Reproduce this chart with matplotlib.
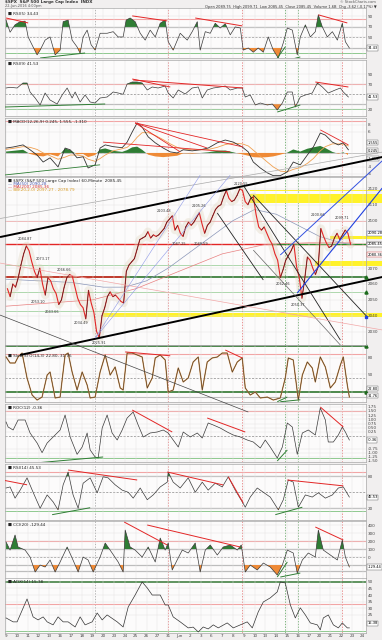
import matplotlib
matplotlib.use("Agg")
import matplotlib.pyplot as plt
import matplotlib.transforms as mtransforms
import numpy as np

# x axis = trading sessions, 0 = open of 9 May 2016 (60 minute chart)
day_labels = ["9", "10", "11", "12", "13", "16", "17", "18", "19", "20",
              "23", "24", "25", "26", "27", "31", "Jun", "2", "3", "6",
              "7", "8", "9", "10", "13", "14", "15", "16", "17", "20",
              "21", "22", "23", "24"]

# $SPX, four readings per session
spx = np.array([
    2057, 2052, 2060, 2058,  2064, 2072, 2079, 2084,  2081, 2074, 2068, 2064,
    2070, 2060, 2053, 2064,  2062, 2057, 2054, 2047,  2050, 2058, 2064, 2066,
    2065, 2058, 2051, 2047,  2045, 2038, 2056, 2048,  2042, 2030, 2026, 2040,
    2045, 2052, 2055, 2052,  2053, 2051, 2049, 2048,  2068, 2072, 2074, 2076,
    2082, 2088, 2089, 2090,  2093, 2089, 2091, 2090,  2091, 2093, 2095, 2099,
    2101, 2103, 2094, 2097,  2092, 2090, 2096, 2099,  2097, 2099, 2102, 2105,
    2098, 2092, 2097, 2099,  2103, 2107, 2109, 2110,  2115, 2119, 2114, 2112,
    2113, 2116, 2120, 2119,  2112, 2110, 2114, 2115,  2104, 2096, 2094, 2096,
    2092, 2088, 2085, 2079,  2075, 2064, 2069, 2075,  2078, 2081, 2085, 2071,
    2064, 2051, 2063, 2077,  2075, 2070, 2066, 2071,  2095, 2090, 2086, 2083,
    2084, 2089, 2092, 2088,  2091, 2094, 2092, 2085])
spx_t = np.arange(len(spx)) / 4 + 0.125

ma50_t = [0, 3, 6, 9, 11, 13, 15, 17, 19, 21, 23, 25, 27, 29, 31, 32]
ma50 = [2063, 2062, 2061, 2058, 2058, 2062, 2070, 2080, 2090, 2100, 2107, 2104,
        2097, 2090, 2086, 2085]
ma200_t = [0, 4, 8, 12, 16, 20, 24, 28, 32]
ma200 = [2046, 2048, 2050, 2057, 2068, 2079, 2085, 2086, 2086]

rsi5_t = np.array([0.0, 0.37, 0.83, 1.30, 1.76, 2.04, 2.50, 2.87, 3.15, 3.61, 4.07, 4.54,
                   5.00, 5.28, 5.74, 6.11, 6.57, 6.85, 7.13, 7.50, 7.87, 8.24, 8.70, 9.35,
                   9.91, 10.37, 10.83, 11.11, 11.48, 11.94, 12.41, 12.87, 13.33, 13.80,
                   14.26, 14.72, 15.00, 15.46, 16.11, 16.76, 17.22, 17.69, 17.96, 18.43,
                   18.89, 19.35, 19.81, 20.28, 20.74, 21.20, 21.67, 21.94, 22.41, 22.87,
                   23.33, 23.80, 24.26, 24.72, 25.19, 25.65, 26.02, 26.48, 26.94, 27.22,
                   27.69, 28.15, 28.61, 28.89, 29.26, 29.72, 30.19, 30.65, 31.11, 31.39,
                   31.76])
rsi5 = np.array([83, 60, 74, 80, 81, 51, 32, 17, 26, 45, 51, 17,
                 26, 80, 83, 45, 32, 20, 51, 64, 36, 26, 58, 58,
                 61, 51, 51, 83, 87, 80, 58, 45, 64, 51,
                 77, 83, 42, 26, 58, 45, 61, 80, 26, 61,
                 58, 77, 68, 76, 55, 70, 68, 26, 30, 22,
                 30, 22, 51, 26, 11, 40, 68, 64, 17, 51,
                 74, 51, 61, 93, 70, 51, 61, 45, 77, 42,
                 30])

rsi9_t = np.array([0.0, 0.37, 1.02, 1.57, 1.94, 2.22, 2.69, 3.15, 3.61, 4.07, 4.72, 5.19,
                   5.65, 6.11, 6.39, 6.85, 7.31, 7.78, 8.24, 8.70, 9.35, 9.91, 10.37, 10.83,
                   11.20, 11.67, 12.13, 12.59, 13.06, 13.52, 14.07, 14.72, 15.00, 15.46,
                   15.93, 16.57, 17.22, 17.78, 18.15, 18.61, 19.17, 19.81, 20.28, 20.74,
                   21.39, 21.85, 22.13, 22.59, 23.06, 23.52, 24.17, 24.63, 25.09, 25.56,
                   26.02, 26.48, 26.76, 27.22, 27.69, 28.33, 28.80, 29.26, 29.81, 30.46,
                   30.93, 31.20, 31.67])
rsi9 = np.array([62.6, 64, 62.6, 72.6, 72.6, 54.6, 42.6, 28.6, 52.6, 38.6, 30.6, 48.6,
                 62.6, 42.6, 54.6, 34.6, 48.6, 34.6, 32.6, 42.6, 44.6, 54.6, 52.6, 50,
                 70.6, 74.6, 74.6, 72.6, 58.6, 64.6, 62.6, 66.6, 52.6, 42.6,
                 58.6, 50.6, 62.6, 64.6, 42.6, 58.6, 62.6, 64.6, 66.6, 58.6,
                 62.6, 62.6, 44.6, 48.6, 28.6, 32.6, 28.6, 30.6, 18.6, 32.6,
                 54.6, 54.6, 24.6, 44.6, 48.6, 52.6, 72.6, 64.6, 52.6, 58.6,
                 62.6, 54.6, 44.6])

macd_t = np.array([0.0, 0.65, 1.57, 2.22, 2.87, 3.43, 4.07, 4.81, 5.46, 5.93, 6.57, 7.13,
                   7.59, 8.24, 8.70, 9.17, 9.91, 10.74, 11.20, 11.67, 12.13, 12.59, 13.15,
                   13.80, 14.54, 15.19, 15.83, 16.39, 17.22, 17.96, 18.70, 19.54, 20.28,
                   21.02, 21.85, 22.41, 22.87, 23.52, 24.17, 24.72, 25.37, 26.02, 26.57,
                   27.22, 27.87, 28.43, 29.07, 29.54, 30.19, 30.74, 31.20, 31.67])
macd = np.array([1.4, 1.7, 2.3, 0.9, -0.6, -2.6, -1.4, -4.0, 1.4, 0.9, -1.4, -1.1,
                 -4.3, -3.4, 1.4, 2.3, 1.8, 1.5, 3.1, 6.0, 8.6, 7.4, 4.6,
                 2.9, 1.4, 0.3, 0.0, 0.9, 0.6, 0.9, 1.4, 2.9, 3.7,
                 3.1, 1.7, 0.3, -2.6, -4.3, -5.7, -6.5, -6.5, -5.4, -2.6,
                 -3.4, -0.6, 1.7, 5.7, 5.1, 3.1, 2.3, 2.9, 0.9])
macd_signal = np.array([1.0, 1.3, 1.8, 1.6, 1.0, 0.0, -0.8, -1.8, -1.2, -0.6, -0.6, -0.9,
                        -1.8, -2.4, -1.6, -0.6, 0.6, 1.2, 1.6, 2.8, 4.5, 5.8, 5.8,
                        5.0, 3.8, 2.6, 1.6, 1.1, 0.9, 0.9, 1.0, 1.6, 2.4,
                        2.8, 2.6, 2.0, 0.8, -0.9, -2.6, -4.0, -5.2, -5.4, -4.7,
                        -4.2, -3.0, -1.6, 0.6, 1.8, 2.6, 2.6, 2.5, 2.0])
macd_hist = np.array([0.4, 0.6, 0.9, -0.3, -0.8, -1.0, -0.4, -1.0, 1.3, 0.8, -0.4, -0.3,
                      -1.2, -0.6, 1.0, 1.3, 0.6, 0.3, 0.8, 1.6, 1.8, 0.9, -0.5,
                      -1.0, -1.2, -1.0, -0.8, -0.1, -0.2, 0.0, 0.2, 0.6, 0.7,
                      0.2, -0.4, -0.8, -1.2, -1.3, -1.2, -1.0, -0.5, 0.1, 1.0,
                      0.4, 1.2, 1.6, 2.0, 1.4, 0.3, -0.2, 0.2, -0.6])

sto_t = np.array([0.0, 0.37, 0.83, 1.11, 1.48, 1.94, 2.41, 2.87, 3.33, 3.80, 4.07, 4.54,
                  5.00, 5.46, 5.74, 6.11, 6.57, 7.04, 7.50, 7.78, 8.24, 8.70, 9.17, 9.63,
                  10.09, 10.56, 10.83, 11.20, 11.67, 12.13, 12.59, 13.06, 13.52, 13.80,
                  14.26, 14.72, 15.00, 15.46, 15.93, 16.39, 16.85, 17.31, 17.78, 18.15,
                  18.61, 19.07, 19.54, 20.00, 20.46, 20.93, 21.39, 21.85, 22.13, 22.59,
                  23.06, 23.52, 24.17, 24.72, 25.37, 25.83, 26.11, 26.57, 27.04, 27.41,
                  27.87, 28.33, 28.61, 29.07, 29.54, 30.00, 30.46, 30.93, 31.20, 31.57,
                  31.76])
sto = np.array([81.8, 70.9, 70.9, 81.8, 89, 43.6, 12.7, 3.6, 9, 49, 54.5, 7.3,
                9, 85.5, 89, 54.5, 21.8, 54.5, 30.9, 7.3, 9, 54.5, 85.5, 49,
                63.6, 25.5, 21.8, 89, 89, 85.5, 81.8, 25.5, 43.6, 80,
                85.5, 76.4, 18.2, 21.8, 61.8, 36.4, 43.6, 72.7, 81.8, 21.8,
                72.7, 80, 81.8, 89, 89, 54.5, 72.7, 80, 25.5, 12.7,
                18.2, 7.3, 9, 3.6, 7.3, 43.6, 80, 76.4, 3.6, 49,
                72.7, 61.8, 36.4, 81.8, 63.6, 25.5, 36.4, 67.3, 81.8, 30.9,
                9])

roc_t = np.array([0.0, 0.19, 0.65, 1.11, 1.76, 2.22, 2.87, 3.33, 3.80, 4.35, 5.00, 5.46,
                  5.93, 6.57, 7.04, 7.50, 7.78, 8.24, 8.52, 8.89, 9.35, 9.81, 10.28, 10.74,
                  11.20, 11.76, 12.22, 12.69, 13.33, 13.98, 14.54, 15.00, 15.46, 15.93,
                  16.39, 17.04, 17.69, 18.15, 18.70, 19.17, 19.81, 20.46, 21.02, 21.67,
                  22.31, 22.87, 23.52, 23.98, 24.44, 25.09, 25.56, 26.02, 26.48, 26.94,
                  27.41, 27.96, 28.61, 29.07, 29.54, 29.81, 30.28, 30.74, 31.11, 31.39,
                  31.76])
roc = np.array([0.84, 0.54, 0.36, 0.96, 0.96, 0.18, -0.42, -1.0, -0.42, -0.06, 0.36, 1.26,
                -0.06, -1.1, -0.66, 0.18, -0.84, -1.26, -1.32, 0.48, 1.26, 0.18, -0.24, 0.36,
                1.08, 1.44, 0.66, -0.06, 0.18, 0.24, 0.36, 0.18, -0.24, -0.66,
                0.24, -0.06, 0.18, -0.12, 0.78, 0.66, 0.48, 0.24, 0.06, -0.06,
                -0.24, -0.36, -0.72, -0.24, -0.66, -1.32, -0.66, 0.78, 0.54, -1.1,
                0.18, 0.36, 0.06, 1.68, 0.96, -0.36, -0.36, 0.06, 0.54, 0.24,
                -0.24])

rsi14_t = np.array([0.0, 0.37, 0.83, 1.30, 1.94, 2.50, 3.15, 3.80, 4.35, 4.81, 5.28, 5.74,
                    6.20, 6.67, 7.13, 7.78, 8.43, 8.98, 9.44, 10.09, 10.74, 11.30, 11.76,
                    12.41, 13.06, 13.61, 14.26, 14.91, 15.00, 15.46, 16.11, 16.85, 17.50,
                    18.15, 18.70, 19.35, 20.00, 20.56, 21.20, 21.85, 22.13, 22.59, 23.24,
                    23.80, 24.44, 24.91, 25.19, 25.65, 26.11, 26.57, 27.04, 27.69, 28.33,
                    28.89, 29.54, 30.19, 30.74, 31.20, 31.76])
rsi14 = np.array([58, 60, 39, 54, 77, 50, 20, 45, 32, 17, 64, 88,
                  45, 20, 67, 77, 49, 79, 77, 64, 54, 50, 39,
                  58, 36, 45, 60, 69, 88, 69, 58, 77, 50,
                  69, 54, 67, 60, 79, 54, 32, 22, 41, 58,
                  50, 41, 26, 17, 36, 73, 69, 22, 45, 41,
                  49, 39, 45, 58, 60, 41])

cci_t = np.array([0.0, 0.37, 0.83, 1.11, 1.76, 2.22, 2.69, 3.15, 3.61, 4.07, 4.54, 5.00,
                  5.65, 6.11, 6.67, 7.13, 7.59, 8.06, 8.70, 9.17, 9.81, 10.37, 10.83, 11.02,
                  11.48, 11.94, 12.59, 13.15, 13.80, 14.26, 14.72, 15.00, 15.37, 15.83,
                  16.30, 16.85, 17.50, 17.96, 18.43, 18.89, 19.54, 20.09, 20.74, 21.39,
                  21.76, 22.13, 22.59, 23.24, 23.80, 24.44, 25.09, 25.56, 26.02, 26.57,
                  26.94, 27.41, 27.96, 28.61, 28.89, 29.35, 30.00, 30.65, 31.11, 31.39,
                  31.76])
cci = np.array([187, 87, 275, 125, 87, 0, -187, -100, -125, -37, -187, -62,
                125, -12, -187, 0, -37, -187, 0, 175, 50, -62, -187, 337,
                125, 87, 0, 125, -62, 237, 87, 175, -162, -37,
                87, 50, 175, -187, 87, 150, 25, 125, 150, 87,
                150, -187, -100, -162, -75, -125, -225, -100, 87, 50,
                -200, -37, 50, 0, 337, 87, 25, -37, 212, 0,
                -125])

adx_t = np.array([0.0, 0.65, 1.02, 1.94, 2.50, 2.96, 3.43, 3.80, 4.35, 4.81, 5.28, 5.74,
                  6.39, 6.85, 7.31, 7.96, 8.43, 8.89, 9.35, 10.28, 10.83, 11.30, 11.94,
                  12.59, 13.06, 13.52, 14.26, 14.72, 15.00, 15.46, 16.11, 16.85, 17.31,
                  17.78, 18.24, 18.70, 19.17, 19.63, 20.46, 21.02, 21.67, 22.31, 22.78,
                  23.33, 23.80, 24.44, 25.09, 25.37, 25.83, 26.30, 26.76, 27.22, 27.69,
                  28.15, 28.80, 29.07, 29.35, 29.81, 30.28, 30.74, 31.11, 31.57, 31.76])
adx = np.array([22.5, 19.5, 19.5, 37, 23.3, 21, 23.3, 19.5, 17.2, 23.3, 19.5, 19.5,
                15.6, 23.3, 17.2, 19.5, 26.3, 21, 24.8, 19.5, 15.6, 30.9, 40,
                50, 45.4, 40, 40, 32.4, 32.4, 23.3, 19.5, 14.9, 15.5,
                11.8, 15.6, 14.1, 17.2, 14.9, 18.7, 14.9, 17.2, 19.5, 14.9,
                27.1, 34.7, 37.8, 42.4, 50, 49.2, 32.4, 22.5, 30.2, 24.8,
                18.7, 17.2, 13.4, 22.5, 24.8, 17.2, 14.9, 18.7, 14.9, 14.9])

GREEN = "#2f7d34"
ORANGE = "#ef8a36"
RED = "#e32626"
LRED = "#f2a5a5"
LGREEN = "#8fc98f"
YELLOW = "#fff22a"

W, H = 382.0, 640.0
fig = plt.figure(figsize=(W / 100, H / 100), dpi=100)
fig.patch.set_facecolor("#f1efef")

vmarks = [(8.24, "#9a9a9a"), (15.0, "#e26a6a"), (21.8, "#e26a6a"),
          (25.8, "#4f9a4f"), (27.0, "#4f9a4f"), (31.1, "#e26a6a")]


def panel(top, bottom, ylim, yticks, fmt="{:g}"):
    ax = fig.add_axes([5 / W, 1 - bottom / H, 361 / W, (bottom - top) / H])
    ax.set_facecolor("#fcfbfb")
    ax.set_xlim(-0.1, 33.3)
    ax.set_ylim(*ylim)
    ax.set_xticks(range(len(day_labels)))
    ax.set_xticklabels([])
    ax.set_yticks(yticks)
    ax.set_yticklabels([fmt.format(v) for v in yticks])
    ax.yaxis.tick_right()
    ax.tick_params(length=0, labelsize=3, pad=1.5, colors="#444444")
    ax.grid(True, color="#e3e1e1", lw=0.3)
    for s in ax.spines.values():
        s.set_color("#a8a8a8")
        s.set_linewidth(0.5)
    for t, c in vmarks:
        ax.axvline(t, color=c, lw=0.5, ls=(0, (2, 2)), zorder=1)
    return ax


def hlines(ax, levels):
    for v, c, lw, ls in levels:
        ax.axhline(v, color=c, lw=lw, ls=ls, zorder=1)


def trend(ax, lines, clip=True):
    for t0, v0, t1, v1, c, lw in lines:
        ax.plot([t0, t1], [v0, v1], color=c, lw=lw, clip_on=clip,
                solid_capstyle="butt", zorder=4)


def osc(ax, t, v, hi, lo, color="#3a3a3a"):
    ax.plot(t, v, color=color, lw=0.5, zorder=3)
    if hi is not None:
        ax.fill_between(t, v, hi, where=v >= hi, interpolate=True, color=GREEN, lw=0, zorder=2)
        ax.fill_between(t, v, lo, where=v <= lo, interpolate=True, color=ORANGE, lw=0, zorder=2)


def title(ax, txt, color="#222222", y=0.96):
    ax.text(0.008, y, txt, transform=ax.transAxes, fontsize=3, va="top",
            color=color, zorder=6)


def lastbox(ax, v, txt, ec="#555555"):
    tr = mtransforms.blended_transform_factory(ax.transAxes, ax.transData)
    ax.text(1.004, v, txt, transform=tr, fontsize=2.6, va="center", ha="left",
            bbox=dict(boxstyle="square,pad=0.15", fc="white", ec=ec, lw=0.3), zorder=7)


# header
fig.text(0.012, 0.9995, r"\$SPX  S&P 500 Large Cap Index  INDX", fontsize=3.0, va="top",
         weight="bold", color="#333333")
fig.text(0.012, 0.9935, "22-Jun-2016 4:00pm", fontsize=2.5, va="top", color="#555555")
fig.text(0.985, 0.9995, "© StockCharts.com", fontsize=2.6, va="top", ha="right", color="#555555")
fig.text(0.985, 0.9925, "Open 2089.75  High 2099.71  Low 2085.45  Close 2085.45  "
         "Volume 1.6B  Chg -3.62 (-0.17%) ▼", fontsize=2.6, va="top", ha="right",
         color="#333333")

# RSI(5)
ax1 = panel(8, 58, (11, 106), [50, 70, 90])
hlines(ax1, [(85, LRED, 0.8, "-"), (70, "#bdbdbd", 0.9, "-"), (50, "#888888", 0.5, (0, (3, 2))),
             (30, "#bdbdbd", 0.9, "-"), (20, LGREEN, 0.7, "-")])
osc(ax1, rsi5_t, rsi5, 70, 30)
trend(ax1, [(0.0, 87, 2.04, 77.6, RED, 0.7), (11.67, 91, 14.91, 81.4, RED, 0.7),
            (17.5, 87, 21.85, 72, RED, 0.7), (28.89, 93, 31.57, 77.6, RED, 0.7),
            (3.15, 11, 7.31, 20.5, GREEN, 0.7), (25.09, 11, 25.83, 32, GREEN, 0.7),
            (26.3, 8, 27.22, 13, GREEN, 0.7)])
title(ax1, "■ RSI(5) 34.43", y=0.93)
lastbox(ax1, rsi5[-1], "34.43")

# RSI(9)
ax2 = panel(60, 116, (6.6, 118.6), [20, 70, 90])
hlines(ax2, [(70, LRED, 0.8, "-"), (50, "#888888", 0.5, (0, (3, 2))),
             (30, "#bdbdbd", 0.9, "-"), (20, LGREEN, 0.7, "-")])
osc(ax2, rsi9_t, rsi9, 70, 30)
trend(ax2, [(11.76, 78.6, 21.94, 62.6, RED, 0.7), (11.67, 80.6, 15.19, 64.6, RED, 0.7),
            (28.61, 74.6, 31.67, 64.6, RED, 0.7), (-0.1, 24.6, 9.17, 30.6, GREEN, 0.7),
            (25.09, 14.6, 27.22, 28.6, GREEN, 0.7)])
title(ax2, "■ RSI(9) 41.53")
lastbox(ax2, rsi9[-1], "41.53")

# MACD
ax3 = panel(118, 176, (-6.6, 10), [-6, -4, 6, 8])
hlines(ax3, [(9, LRED, 0.8, "-"), (0, "#9a9a9a", 0.4, "-")])
ax3.fill_between(macd_t, 0, macd_hist, where=macd_hist >= 0, interpolate=True,
                 color=GREEN, lw=0, zorder=2)
ax3.fill_between(macd_t, 0, macd_hist, where=macd_hist <= 0, interpolate=True,
                 color=ORANGE, lw=0, zorder=2)
ax3.plot(macd_t, macd_signal, color="#f0a050", lw=0.6, zorder=3)
ax3.plot(macd_t, macd, color="#333333", lw=0.6, zorder=3)
trend(ax3, [(11.94, 8.6, 21.94, 1.7, RED, 0.6), (11.94, 8.6, 18.61, 1.4, RED, 0.6),
            (11.94, 8.6, 16.11, 0.3, RED, 0.6), (8.98, 3.1, 20.74, 0.3, RED, 0.6),
            (29.07, 6.6, 31.67, 2.3, RED, 0.6), (-0.1, -6.3, 8.7, -3.4, GREEN, 0.6)])
title(ax3, "■ MACD(12,26,9) 0.245, 1.555, -1.310")
lastbox(ax3, 2.9, "1.555")
lastbox(ax3, 0.6, "0.245")
lastbox(ax3, -1.7, "-1.310")

# price
ax4 = panel(177, 345, (2021.5, 2127.5), [2030, 2040, 2050, 2060, 2070, 2100, 2110, 2120])
ax4.set_zorder(5)
hlines(ax4, [(2099.7, LRED, 0.6, "-"), (2085.2, RED, 1.0, "-"), (2072.0, LGREEN, 0.5, "-"),
             (2064.4, "#1d6b1d", 1.1, "-"), (2054.9, LGREEN, 0.5, "-"),
             (2042.9, LGREEN, 0.5, "-")])
ax4.plot([-0.1, 10.8], [2064.4, 2064.4], color=RED, lw=1.1, zorder=1)
ax4.plot([24.5, 33.3], [2085.4, 2085.4], color="#2a8a2a", lw=0.9, zorder=1)
# yellow zones (start session, low, high)
for t0, lo, hi in [(22.6, 2111, 2117), (30.0, 2088.4, 2090.4), (28.6, 2071.3, 2074.5),
                   (9.0, 2039.2, 2041.7), (22.6, 2118.6, 2119.4)]:
    ax4.fill_between([t0, 34.8], lo, hi, color=YELLOW, lw=0, clip_on=False, zorder=1)
ax4.plot(ma200_t, ma200, color="#e88080", lw=0.5, zorder=2)
ax4.plot(ma50_t, ma50, color="#8a96b8", lw=0.5, zorder=2)
ax4.plot(spx_t, spx, color="#d9cfb3", lw=6, alpha=0.3, solid_capstyle="round", zorder=2)
ax4.plot(spx_t, spx, color=RED, lw=0.8, zorder=3)
up = np.diff(spx) > 0
for i in np.where(up)[0]:
    ax4.plot(spx_t[i:i + 2], spx[i:i + 2], color="#222222", lw=0.35, zorder=3)
trend(ax4, [(-0.56, 2089.6, 34.8, 2140.1, "black", 1.4),
            (1.30, 2015.2, 34.8, 2064.4, "black", 1.4),
            (-0.56, 2101.3, 34.8, 2143.2, "#aaaaaa", 0.5),
            (-0.56, 2040.4, 22.41, 1979.2, "#444444", 0.5),
            (21.94, 2122.4, 30.93, 2024.6, "#222222", 0.6),
            (19.54, 2104.8, 23.80, 2062.5, "#222222", 0.6),
            (22.87, 2116.1, 33.43, 2039.1, "#222222", 0.6),
            (22.87, 2081.4, 30.93, 2021.5, "#666666", 0.5),
            (-0.56, 2073.2, 34.8, 2031.0, "#f2a8a8", 0.5),
            (8.24, 2025.9, 17.96, 2128.7, "#8f9ae8", 0.4),
            (8.24, 2025.9, 20.74, 2128.7, "#8f9ae8", 0.4),
            (25.37, 2078.3, 34.8, 2137.7, "#3452e0", 0.7),
            (26.94, 2054.3, 34.8, 2120.5, "#2040e0", 0.8)], clip=False)
price_notes = [(1.8, 2088.5, "2084.87"), (3.0, 2048.5, "2053.10"), (3.4, 2076.0, "2073.17"),
               (5.4, 2069.0, "2066.66"), (4.3, 2042.5, "2043.66"), (6.9, 2035.5, "2034.49"),
               (8.6, 2023.0, "2025.91"), (14.6, 2106.0, "2103.48"), (16.0, 2085.5, "2087.25"),
               (18.0, 2085.5, "2088.59"), (17.9, 2109.0, "2105.26"), (21.7, 2123.0, "2120.55"),
               (25.6, 2060.0, "2062.46"), (27.0, 2046.5, "2050.37"), (28.9, 2103.5, "2100.66"),
               (31.1, 2101.5, "2099.71")]
for t, p, s in price_notes:
    ax4.text(t, p, s, fontsize=2.5, ha="center", va="center", color="#333333", zorder=6)
tr4 = mtransforms.blended_transform_factory(ax4.transAxes, ax4.transData)
ax4.plot([1.0, 1.0], [2064.4, 2054.9], ls="none", marker="^", ms=2.2, color="#1d6b1d",
         transform=tr4, clip_on=False, zorder=7)
ax4.plot([1.0], [2039.4], ls="none", marker="s", ms=2, color="#2040e0",
         transform=tr4, clip_on=False, zorder=7)
title(ax4, r"■ \$SPX (S&P 500 Large Cap Index) 60-Minute  2085.45", y=0.99)
title(ax4, "— MA(50) 2090.28", color="#4a5ab0", y=0.972)
title(ax4, "— MA(200) 2085.36", color="#d03030", y=0.954)
title(ax4, "— BB(20,2.0) 2097.27 - 2078.79", color="#d89a20", y=0.936)
lastbox(ax4, 2092.0, "2090.28", ec="#4a5ab0")
lastbox(ax4, spx[-1], "2085.45", ec="#222222")
lastbox(ax4, 2078.6, "2080.36", ec="#d03030")

# slow stochastic
ax5 = panel(345, 402, (0, 103.6), [50, 80])
hlines(ax5, [(102, "#1d6b1d", 1.1, "-"), (87, LRED, 0.8, "-"), (44, "#888888", 0.5, (0, (3, 2))),
             (18, "#1d6b1d", 1.1, "-"), (9, "#bdbdbd", 0.8, "-")])
ax5.plot(sto_t, sto, color="#d08a40", lw=0.9, zorder=3)
ax5.plot(sto_t, sto, color="#333333", lw=0.35, zorder=3)
trend(ax5, [(11.02, 91, 15.19, 84, RED, 0.7), (20.28, 94.5, 21.85, 80, RED, 0.7),
            (25.09, 0.5, 26.02, 9, GREEN, 0.7), (25.37, 0.5, 27.22, 4, GREEN, 0.7)])
tr5 = mtransforms.blended_transform_factory(ax5.transAxes, ax5.transData)
ax5.plot([1.0, 1.0], [102, 18], ls="none", marker="^", ms=2.2, color="#1d6b1d",
         transform=tr5, clip_on=False, zorder=7)
title(ax5, "■ Slow STO(14,3) 22.80, 31.76", y=0.84)
lastbox(ax5, 24, "22.80")
lastbox(ax5, 11, "31.76")

# ROC
roc_ticks = [v for v in np.arange(-1.5, 1.8, 0.25) if abs(v - roc[-1]) > 0.3]
ax6 = panel(404, 462, (-1.56, 1.92), roc_ticks, fmt="{:.2f}")
hlines(ax6, [(1.5, LRED, 0.8, "-"), (0, "#888888", 0.5, (0, (3, 2))), (-1.32, LGREEN, 0.7, "-")])
osc(ax6, roc_t, roc, None, None)
trend(ax6, [(11.67, 1.56, 15.37, 0.24, RED, 0.7), (18.61, 1.08, 22.13, 0.24, RED, 0.7),
            (29.07, 1.74, 31.2, 0.54, RED, 0.7), (-0.1, -1.78, 8.98, -1.26, GREEN, 0.7),
            (25.09, -1.5, 26.02, -0.84, GREEN, 0.7)])
title(ax6, "■ ROC(12) -0.36")
lastbox(ax6, roc[-1], "-0.36")

# RSI(14)
ax7 = panel(464, 520, (-2, 103), [20, 80])
hlines(ax7, [(88, LRED, 0.8, "-"), (80, "#bdbdbd", 0.9, "-"), (50, "#888888", 0.5, (0, (3, 2))),
             (20, "#bdbdbd", 0.9, "-"), (15, LGREEN, 0.7, "-")])
osc(ax7, rsi14_t, rsi14, 80, 20)
trend(ax7, [(-0.1, 72, 1.94, 64, RED, 0.7), (5.74, 91.7, 12.13, 73, RED, 0.7),
            (14.91, 88, 20.09, 63.7, RED, 0.7), (20.56, 79, 21.94, 30, RED, 0.7),
            (26.02, 73, 31.2, 62, RED, 0.7), (4.26, 8, 7.78, 21, GREEN, 0.7),
            (24.91, 8, 27.41, 22, GREEN, 0.7)])
title(ax7, "■ RSI(14) 45.53")
lastbox(ax7, rsi14[-1], "45.53")

# CCI(20)
ax8 = panel(521, 578, (-262, 450), [0, 100, 200, 300, 400])
hlines(ax8, [(200, LRED, 0.8, "-"), (100, "#bdbdbd", 0.9, "-"), (0, "#888888", 0.5, (0, (3, 2))),
             (-100, "#bdbdbd", 0.9, "-"), (-180, "#bdbdbd", 0.9, "-")])
osc(ax8, cci_t, cci, 100, -100)
trend(ax8, [(10.93, 437, 14.91, 150, RED, 0.7), (13.06, 400, 21.67, 125, RED, 0.7),
            (28.61, 375, 31.2, 212, RED, 0.7), (25.09, -250, 26.02, -62, GREEN, 0.7),
            (25.37, -250, 27.22, -200, GREEN, 0.7)])
title(ax8, "■ CCI(20) -129.44")
lastbox(ax8, cci[-1], "-129.44")

# ADX(14)
ax9 = panel(578, 633, (11, 53), [25, 30, 35, 40, 45, 50])
hlines(ax9, [(50, "#1d6b1d", 1.2, "-"), (33, LRED, 0.8, "-"), (12.6, LGREEN, 0.7, "-")])
ax9.plot(adx_t, adx, color="#333333", lw=0.5, zorder=3)
title(ax9, "■ ADX(14) 15.38")
lastbox(ax9, 18.5, "15.38")
ax9.set_xticklabels(day_labels)
ax9.tick_params(axis="x", labelsize=3, pad=1)

fig.savefig("out.png", dpi=100, facecolor=fig.get_facecolor())
